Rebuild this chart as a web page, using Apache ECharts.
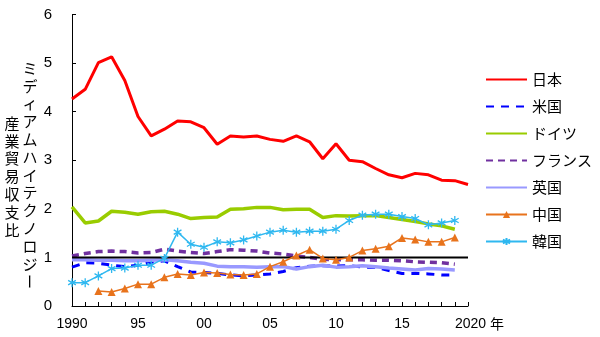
<!DOCTYPE html>
<html>
<head>
<meta charset="utf-8">
<script src="https://cdn.jsdelivr.net/npm/echarts@6/dist/echarts.min.js"></script>
<style>
  html, body { margin: 0; padding: 0; background: #ffffff; }
  #chart { width: 600px; height: 337px; }
</style>
</head>
<body>
<div id="chart"></div>
<script>
// 年次（1990〜2020）
const years = [];
for (let y = 1990; y <= 2020; y++) years.push(y);

// ミディアムハイテクノロジー産業の貿易収支比（輸出／輸入）
const japan   = [4.26, 4.46, 5.01, 5.13, 4.64, 3.90, 3.50, 3.64, 3.81, 3.79, 3.67, 3.33, 3.50, 3.48, 3.50, 3.43, 3.39, 3.50, 3.38, 3.03, 3.34, 3.00, 2.97, 2.83, 2.70, 2.64, 2.73, 2.70, 2.59, 2.58, 2.50];
const usa     = [0.80, 0.89, 0.88, 0.84, 0.81, 0.84, 0.90, 0.93, 0.81, 0.70, 0.69, 0.67, 0.64, 0.62, 0.64, 0.66, 0.71, 0.79, 0.82, 0.83, 0.82, 0.83, 0.80, 0.80, 0.73, 0.67, 0.67, 0.66, 0.64, 0.64];
const germany = [2.04, 1.71, 1.75, 1.95, 1.93, 1.89, 1.94, 1.95, 1.89, 1.80, 1.82, 1.83, 1.99, 2.00, 2.03, 2.03, 1.98, 1.99, 1.99, 1.82, 1.86, 1.85, 1.86, 1.86, 1.82, 1.78, 1.74, 1.69, 1.65, 1.58];
const france  = [1.03, 1.08, 1.12, 1.13, 1.12, 1.09, 1.10, 1.17, 1.13, 1.10, 1.08, 1.12, 1.16, 1.15, 1.13, 1.09, 1.07, 1.03, 1.00, 0.96, 0.95, 0.95, 0.95, 0.94, 0.94, 0.93, 0.91, 0.90, 0.89, 0.86];
const uk      = [0.95, 0.95, 0.94, 0.94, 0.93, 0.93, 0.94, 0.95, 0.93, 0.90, 0.88, 0.82, 0.81, 0.81, 0.80, 0.81, 0.81, 0.76, 0.81, 0.84, 0.80, 0.81, 0.83, 0.81, 0.78, 0.76, 0.74, 0.77, 0.76, 0.74];
const china   = [null, null, 0.31, 0.29, 0.36, 0.45, 0.45, 0.59, 0.66, 0.64, 0.69, 0.68, 0.65, 0.64, 0.66, 0.81, 0.91, 1.04, 1.16, 0.98, 0.95, 1.00, 1.14, 1.18, 1.23, 1.40, 1.37, 1.32, 1.32, 1.41];
const korea   = [0.48, 0.48, 0.62, 0.77, 0.78, 0.84, 0.84, 0.98, 1.52, 1.27, 1.21, 1.32, 1.30, 1.36, 1.44, 1.52, 1.56, 1.52, 1.54, 1.54, 1.58, 1.76, 1.87, 1.89, 1.89, 1.84, 1.80, 1.67, 1.71, 1.76];

// 収支均衡（比 = 1）の基準線
const parityYears  = [1990, 2020];
const parityValues = [1, 1];

// 凡例名（記号なしの系列は線のみ表示）
const names = ['日本', '米国', 'ドイツ', 'フランス', '英国', '中国', '韓国'];
const lineOnly = ['日本', '米国', 'ドイツ', 'フランス', '英国'];

// y軸目盛
const yTicks = [0, 1, 2, 3, 4, 5, 6];

// 縦書きの軸タイトル（2列）
const titleRight = 'ミディアムハイテクノロジー';
const titleLeft  = '産業貿易収支比';

const pairs = (vals, xs) => vals.map((v, i) => [(xs || years)[i], v]);

const CJK = '"Noto Sans CJK JP", "Noto Sans", sans-serif';
const NUM = '"Liberation Sans", "Noto Sans CJK JP", sans-serif';

// 縦書き文字を1文字ずつ配置（長音符は回転）
function verticalText(str, cx, y0, step) {
  return Array.from(str).map((ch, i) => ({
    type: 'text',
    x: cx,
    y: y0 + i * step,
    rotation: ch === 'ー' ? -Math.PI / 2 : 0,
    style: {
      text: ch,
      fill: '#000',
      font: '15px ' + CJK,
      align: 'center', verticalAlign: 'middle',
      textAlign: 'center', textVerticalAlign: 'middle'
    },
    silent: true
  }));
}

const asterisk = 'path://M5,0L5,10M0.7,2.5L9.3,7.5M0.7,7.5L9.3,2.5';

const chart = echarts.init(document.getElementById('chart'), null, { renderer: 'canvas' });

chart.setOption({
  animation: false,
  backgroundColor: '#ffffff',
  grid: { left: 72, right: 132, top: 14.5, bottom: 31, containLabel: false },
  legend: {
    data: names.map(n => lineOnly.includes(n)
      ? { name: n, itemStyle: { opacity: 0 } }
      : { name: n }),
    orient: 'vertical',
    left: 485,
    top: 72,
    padding: 0,
    itemWidth: 41,
    itemHeight: 9,
    itemGap: 12,
    textStyle: { fontFamily: CJK, fontSize: 15, color: '#000' },
    inactiveColor: '#ccc'
  },
  xAxis: {
    type: 'value',
    min: 1990,
    max: 2020,
    interval: 1,
    axisLine: { show: true, lineStyle: { color: '#000', width: 1 } },
    axisTick: { show: true, inside: true, length: 4, lineStyle: { color: '#000' } },
    splitLine: { show: false },
    axisLabel: {
      margin: 11,
      color: '#000',
      fontFamily: NUM,
      fontSize: 14,
      formatter: function (v) {
        if (v % 5 !== 0) return '';
        if (v === 1990) return '1990';
        if (v === 2020) return '{pad|}2020 {u|年}';
        return String(v).slice(2);
      },
      rich: {
        pad: { width: 23 },
        u: { fontFamily: CJK, fontSize: 14, color: '#000' }
      }
    }
  },
  yAxis: {
    type: 'value',
    min: yTicks[0],
    max: yTicks[yTicks.length - 1],
    interval: 1,
    axisLine: { show: true, lineStyle: { color: '#000', width: 1 } },
    axisTick: { show: true, inside: true, length: 4, lineStyle: { color: '#000' } },
    splitLine: { show: false },
    axisLabel: { margin: 20, color: '#000', fontFamily: NUM, fontSize: 15 }
  },
  graphic: verticalText(titleRight, 30, 68, 17.8).concat(verticalText(titleLeft, 12, 123, 17.8)),
  series: [
    {
      name: '日本', type: 'line', data: pairs(japan), symbol: 'none',
      lineStyle: { color: '#ff0000', width: 3 }, itemStyle: { color: '#ff0000' }
    },
    {
      name: '米国', type: 'line', data: pairs(usa), symbol: 'none',
      lineStyle: { color: '#0000ff', width: 3, type: [8, 7] }, itemStyle: { color: '#0000ff' }
    },
    {
      name: 'ドイツ', type: 'line', data: pairs(germany), symbol: 'none',
      lineStyle: { color: '#99cc00', width: 3.5 }, itemStyle: { color: '#99cc00' }
    },
    {
      name: 'フランス', type: 'line', data: pairs(france), symbol: 'none',
      lineStyle: { color: '#7030a0', width: 3.5, type: [7, 5] }, itemStyle: { color: '#7030a0' }
    },
    {
      name: '英国', type: 'line', data: pairs(uk), symbol: 'none',
      lineStyle: { color: '#9999ff', width: 3.5 }, itemStyle: { color: '#9999ff' }
    },
    {
      name: '基準', type: 'line', data: pairs(parityValues, parityYears), symbol: 'none', silent: true,
      lineStyle: { color: '#000000', width: 2 }, itemStyle: { color: '#000000' }
    },
    {
      name: '中国', type: 'line', data: pairs(china), symbol: 'triangle', symbolSize: 8,
      lineStyle: { color: '#e8731c', width: 1.5 }, itemStyle: { color: '#e8731c' }
    },
    {
      name: '韓国', type: 'line', data: pairs(korea), symbol: asterisk, symbolSize: 9, symbolKeepAspect: true,
      lineStyle: { color: '#2fb8f0', width: 1.5 },
      itemStyle: { color: '#2fb8f0', borderColor: '#2fb8f0', borderWidth: 1.3 }
    }
  ]
});
</script>
</body>
</html>
